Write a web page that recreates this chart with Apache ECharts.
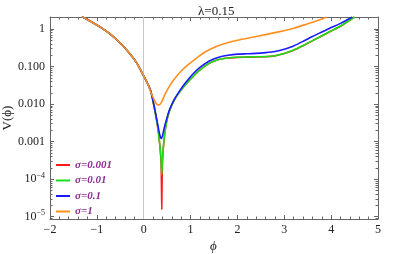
<!DOCTYPE html>
<html>
<head>
<meta charset="utf-8">
<script src="https://cdn.jsdelivr.net/npm/echarts@6/dist/echarts.min.js"></script>
<style>html,body{margin:0;padding:0;background:#fff}#c{width:399px;height:254px}</style>
</head>
<body>
<div id="c"></div>
<script>
// ---- data (log10 V) ----
const seriesNames = ['σ=0.001', 'σ=0.01', 'σ=0.1', 'σ=1'];
const seriesColors = ['#ff1a1a', '#1adf1a', '#1a1aff', '#ff9020'];

const phiLeft  = [-1.32, -1.1, -0.9, -0.7, -0.5, -0.3, -0.15, 0, 0.1];
const logLeft  = [0.33, 0.18, 0.03, -0.15, -0.38, -0.65, -0.9, -1.25, -1.5];

const phiOrange = [0.15, 0.2, 0.25, 0.3, 0.33, 0.38, 0.45, 0.55, 0.65, 0.8, 0.95, 1.1, 1.3, 1.5, 1.75, 2.0, 2.4, 2.9, 3.2, 3.5, 3.7, 3.9];
const logOrange = [-1.68, -1.82, -1.95, -2.02, -2.02, -1.95, -1.75, -1.52, -1.34, -1.12, -0.95, -0.8, -0.62, -0.49, -0.38, -0.3, -0.2, -0.07, 0.02, 0.14, 0.22, 0.32];

const phiBlue = [0.15, 0.2, 0.25, 0.3, 0.34, 0.37, 0.4, 0.44, 0.5, 0.55, 0.65, 0.77, 0.9, 1.05, 1.2, 1.4, 1.6, 1.8, 2.0, 2.2, 2.4, 2.6, 2.8, 3.0, 3.2, 3.4, 3.6, 3.8, 4.0, 4.2, 4.45];
const logBlue = [-1.65, -1.92, -2.22, -2.55, -2.8, -2.92, -2.85, -2.62, -2.35, -2.15, -1.88, -1.64, -1.42, -1.2, -1.02, -0.85, -0.75, -0.7, -0.67, -0.66, -0.65, -0.63, -0.6, -0.54, -0.45, -0.33, -0.2, -0.08, 0.04, 0.15, 0.32];

const phiGreen = [0.15, 0.2, 0.25, 0.3, 0.34, 0.37, 0.385, 0.4, 0.43, 0.47, 0.52, 0.58, 0.67, 0.78, 0.9, 1.05, 1.2, 1.4, 1.6, 1.8, 2.0, 2.2, 2.4, 2.6, 2.8, 3.0, 3.2, 3.4, 3.6, 3.8, 4.0, 4.2, 4.5];
const logGreen = [-1.65, -1.93, -2.25, -2.62, -3.05, -3.45, -3.88, -3.45, -3.0, -2.6, -2.3, -2.08, -1.85, -1.65, -1.47, -1.27, -1.09, -0.91, -0.81, -0.77, -0.75, -0.745, -0.74, -0.735, -0.71, -0.65, -0.56, -0.44, -0.31, -0.18, -0.05, 0.08, 0.32];

const phiRed = [0.15, 0.2, 0.25, 0.3, 0.34, 0.37, 0.38, 0.385, 0.39, 0.40, 0.43, 0.47, 0.52, 0.58, 0.67, 0.78, 0.9, 1.05, 1.2, 1.4, 1.6, 1.8, 2.0, 2.2, 2.4, 2.6, 2.8, 3.0, 3.2, 3.4, 3.6, 3.8, 4.0, 4.2, 4.5];
const logRed = [-1.65, -1.93, -2.25, -2.62, -3.05, -3.55, -4.3, -4.8, -4.3, -3.55, -3.0, -2.6, -2.3, -2.08, -1.85, -1.65, -1.47, -1.27, -1.09, -0.91, -0.81, -0.77, -0.755, -0.75, -0.745, -0.74, -0.715, -0.655, -0.565, -0.445, -0.315, -0.185, -0.055, 0.075, 0.32];

const xTicks = [-2, -1, 0, 1, 2, 3, 4, 5];
const yMajor = [0, -1, -2, -3, -4, -5];
const yTickLabels = ['1', '0.100', '0.010', '0.001', '10^-4', '10^-5'];

// ---- build ----
function pairs(px, py) { return px.map((x, i) => [x, py[i]]); }
function withLeft(px, py) { return pairs(phiLeft, logLeft).concat(pairs(px, py)); }
const yMinor = [];
for (let d = -6; d <= 0; d++) for (let k = 2; k <= 9; k++) { const v = d + Math.log10(k); if (v > -5.06 && v < 0.32) yMinor.push(v); }

const serif = '"Liberation Serif", "DejaVu Serif", serif';
const axisColor = '#666';
function yLabel(v) {
  const i = yMajor.findIndex(m => Math.abs(m - v) < 1e-6);
  const s = yTickLabels[i];
  if (s.indexOf('^') >= 0) { const p = s.split('^'); return '{b|' + p[0] + '}{s|' + p[1].replace('-', '−') + '}'; }
  return '{b|' + s + '}';
}
function xAx(pos, show) {
  return { type: 'value', position: pos, min: -2, max: 5, interval: 1,
    axisLine: { show: true, onZero: false, lineStyle: { color: axisColor, width: 1 } },
    axisTick: { show: true, inside: true, length: 4, lineStyle: { color: axisColor } },
    minorTick: { show: true, splitNumber: 5, length: 2.5, lineStyle: { color: axisColor } },
    splitLine: { show: false },
    axisLabel: { show: show, margin: 5, color: '#222', fontFamily: serif, fontSize: 12,
      formatter: v => String(v).replace('-', '−') } };
}
function yAx(pos, vals, len, labels, line, name) {
  return { type: 'value', position: pos, min: -5.06, max: 0.32,
    name: name || '', nameLocation: 'middle', nameGap: 36, nameRotate: 90, nameMoveOverlap: false,
    nameTextStyle: { fontFamily: serif, fontSize: 13, color: '#222' },
    axisLine: { show: line, onZero: false, lineStyle: { color: axisColor, width: 1 } },
    axisTick: { show: true, inside: true, length: len, customValues: vals, lineStyle: { color: axisColor } },
    splitLine: { show: false },
    axisLabel: { show: labels, customValues: yMajor, margin: 5, formatter: yLabel,
      rich: { b: { fontFamily: serif, fontSize: 12, color: '#222', lineHeight: 14 },
              s: { fontFamily: serif, fontSize: 8, color: '#222', lineHeight: 8, padding: [0, 0, 7, 0] } } } };
}

const datasets = [withLeft(phiRed, logRed), withLeft(phiGreen, logGreen), withLeft(phiBlue, logBlue), withLeft(phiOrange, logOrange)];
const series = datasets.map((d, i) => ({
  name: seriesNames[i], type: 'line', data: d, showSymbol: false, symbol: 'none',
  smooth: 0.2,
  xAxisIndex: 0, yAxisIndex: 0, z: 3 + i,
  lineStyle: { color: seriesColors[i], width: 1.6 }, itemStyle: { color: seriesColors[i] },
  markLine: i === 0 ? { silent: true, symbol: 'none', label: { show: false },
    lineStyle: { color: '#c8c8c8', width: 1, type: 'solid' }, data: [{ xAxis: 0 }] } : undefined
}));

const chart = echarts.init(document.getElementById('c'), null, { renderer: 'canvas' });
chart.setOption({
  animation: false,
  backgroundColor: '#fff',
  title: { text: 'λ=0.15', left: 193, top: 0, textStyle: { fontFamily: serif, fontSize: 13, fontWeight: 'normal', color: '#222' } },
  grid: { left: 50, right: 21, top: 17, bottom: 35, containLabel: false, outerBoundsMode: 'none' },
  xAxis: [xAx('bottom', true), xAx('top', false)],
  yAxis: [yAx('left', yMajor, 4, true, true, 'V(ϕ)'), yAx('right', yMajor, 4, false, true),
          yAx('left', yMinor, 2.5, false, false), yAx('right', yMinor, 2.5, false, false)],
  legend: { orient: 'vertical', left: 51, top: 154, itemWidth: 14, itemHeight: 2, itemGap: 3.5, icon: 'rect',
    data: seriesNames,
    textStyle: { fontFamily: serif, fontStyle: 'italic', fontWeight: 'bold', fontSize: 11, color: '#922a92', lineHeight: 12 } },
  graphic: [
    { type: 'text', left: 210, top: 240, style: { text: 'ϕ', font: 'italic 13px ' + serif, fill: '#222' } }
  ],
  series: series
});
</script>
</body>
</html>
